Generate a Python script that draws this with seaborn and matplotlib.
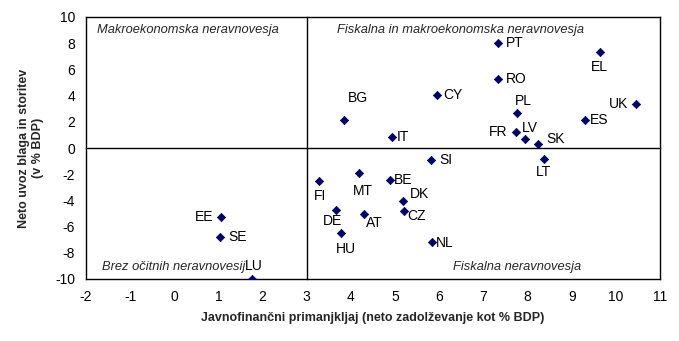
import matplotlib
matplotlib.use("Agg")
import matplotlib.pyplot as plt
import seaborn as sns
import pandas as pd

countries = ["BG", "PT", "EL", "RO", "CY", "UK", "PL", "ES", "IT", "FR", "LV", "SK",
             "LT", "SI", "BE", "DK", "CZ", "NL", "FI", "MT", "DE", "AT", "HU", "EE", "SE", "LU"]
deficit = [3.85, 7.34, 9.63, 7.34, 5.94, 10.46, 7.76, 9.31, 4.94, 7.73, 7.95, 8.24,
           8.37, 5.82, 4.89, 5.19, 5.21, 5.84, 3.28, 4.19, 3.66, 4.30, 3.78, 1.06, 1.04, 1.77]
net_imports = [2.14, 7.99, 7.3, 5.24, 4.02, 3.33, 2.65, 2.16, 0.86, 1.2, 0.69, 0.3,
               -0.86, -0.94, -2.44, -4.05, -4.83, -7.18, -2.54, -1.93, -4.76, -5.06, -6.49, -5.29, -6.82, -10.0]
x_ticks = list(range(-2, 12))
y_ticks = list(range(-10, 11, 2))
quadrant_labels = ["Makroekonomska neravnovesja", "Fiskalna in makroekonomska neravnovesja",
                   "Brez očitnih neravnovesij", "Fiskalna neravnovesja"]
x_label = "Javnofinančni primanjkljaj (neto zadolževanje kot % BDP)"
y_label = "Neto uvoz blaga in storitev\n(v % BDP)"

# label placement (offset in pixels, horizontal alignment)
label_pos = {
    "BG": (14, 22, "center"), "PT": (7, 0, "left"), "EL": (0, -15, "center"),
    "RO": (7, 0, "left"), "CY": (7, 0, "left"), "UK": (-8, 0, "right"),
    "PL": (6, 12, "center"), "ES": (4, 0, "left"), "IT": (4, 0, "left"),
    "FR": (-8, 0, "right"), "LV": (-3, 11, "left"), "SK": (8, 5, "left"),
    "LT": (0, -13, "center"), "SI": (8, 0, "left"), "BE": (4, 0, "left"),
    "DK": (6, 7, "left"), "CZ": (3, -5, "left"), "NL": (4, -1, "left"),
    "FI": (1, -15, "center"), "MT": (4, -18, "center"), "DE": (-3, -11, "center"),
    "AT": (2, -9, "left"), "HU": (5, -16, "center"), "EE": (-8, 0, "right"),
    "SE": (8, 0, "left"), "LU": (1, 13, "center"),
}

df = pd.DataFrame({"country": countries, "x": deficit, "y": net_imports})

sns.set_style("white")
plt.rcParams["font.family"] = ["Liberation Sans", "DejaVu Sans"]
plt.rcParams["axes.unicode_minus"] = False

fig = plt.figure(figsize=(6.79, 3.41), dpi=100)
rect = [86 / 679, 1 - 279 / 341, (660 - 86) / 679, (279 - 17) / 341]
ax = fig.add_axes(rect)

sns.scatterplot(data=df, x="x", y="y", ax=ax, marker="D", s=18, color="#000066",
                edgecolor="#000066", linewidth=0.5, zorder=5)

ax.set_xlim(-2, 11)
ax.set_ylim(-10, 10)
ax.set_xticks(x_ticks)
ax.set_yticks(y_ticks)
ax.tick_params(length=0, labelsize=10, colors="black")
ax.tick_params(axis="x", pad=8)
ax.tick_params(axis="y", pad=8)
for sp in ax.spines.values():
    sp.set_visible(True)
    sp.set_color("black")
    sp.set_linewidth(1.0)
ax.set_xlabel(x_label, fontsize=9, fontweight="bold", labelpad=6)
ax.set_ylabel(y_label, fontsize=9, fontweight="bold", labelpad=8)

# crossing axes with ticks at x=3 and y=0
ax2 = fig.add_axes(rect, facecolor="none")
ax2.set_xlim(-2, 11)
ax2.set_ylim(-10, 10)
ax2.set_xticks(x_ticks)
ax2.set_yticks(y_ticks)
ax2.spines["left"].set_position(("data", 3))
ax2.spines["bottom"].set_position(("data", 0))
ax2.spines["top"].set_visible(False)
ax2.spines["right"].set_visible(False)
for s in ("left", "bottom"):
    ax2.spines[s].set_color("black")
    ax2.spines[s].set_linewidth(1.0)
ax2.tick_params(direction="out", length=4, width=1, color="black",
                labelbottom=False, labelleft=False)
ax2.set_zorder(0)
ax.set_zorder(1)
ax.patch.set_alpha(0)

for c, xv, yv in zip(countries, deficit, net_imports):
    dx, dy, ha = label_pos[c]
    ax.annotate(c, (xv, yv), xytext=(dx, dy), textcoords="offset pixels",
                ha=ha, va="center", fontsize=10, color="black")

qfs = 9.3
ax.text(-1.74, 9.0, quadrant_labels[0], style="italic", fontsize=qfs, ha="left", va="center")
ax.text(6.49, 9.0, quadrant_labels[1], style="italic", fontsize=qfs, ha="center", va="center")
ax.text(-1.64, -9.1, quadrant_labels[2], style="italic", fontsize=qfs, ha="left", va="center")
ax.text(7.77, -9.1, quadrant_labels[3], style="italic", fontsize=qfs, ha="center", va="center")

fig.savefig("out.png", dpi=100)
